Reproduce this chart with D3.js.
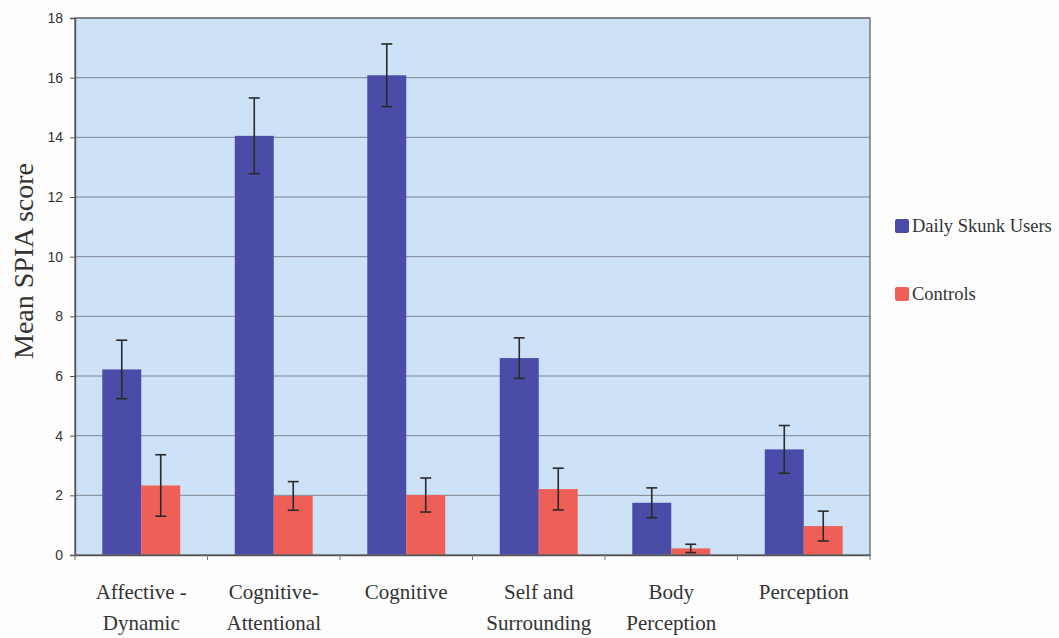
<!DOCTYPE html>
<html lang="en">
<head>
<meta charset="UTF-8" />
<title>Mean SPIA score</title>
<style>
  body { margin: 0; background: #fdfdfd; }
  svg { display: block; }
</style>
</head>
<body>
<svg id="chart" width="1059" height="638"></svg>
<script src="https://d3js.org/d3.v7.min.js"></script>
<script>
const categories = [
  ["Affective -", "Dynamic"],
  ["Cognitive-", "Attentional"],
  ["Cognitive"],
  ["Self and", "Surrounding"],
  ["Body", "Perception"],
  ["Perception"]
];
const seriesNames = ["Daily Skunk Users", "Controls"];
const skunkMeans = [6.22, 14.05, 16.08, 6.6, 1.75, 3.54];
const skunkErr = [0.98, 1.27, 1.05, 0.68, 0.5, 0.8];
const controlMeans = [2.33, 1.98, 2.01, 2.21, 0.22, 0.97];
const controlErr = [1.03, 0.48, 0.57, 0.7, 0.14, 0.5];
const yTicks = [0, 2, 4, 6, 8, 10, 12, 14, 16, 18];

const colors = ["#4b4ba8", "#ee5f58"];
const serif = "'Liberation Serif', 'Times New Roman', serif";

const svg = d3.select("#chart");
const plot = { left: 75, top: 18, right: 870, bottom: 555 };

const x = d3.scaleBand()
  .domain(d3.range(categories.length))
  .range([plot.left, plot.right]);

const y = d3.scaleLinear().domain([0, 18]).range([plot.bottom, plot.top]);

const inner = d3.scaleBand()
  .domain([0, 1])
  .range([0, x.bandwidth()])
  .paddingOuter(0.7)
  .paddingInner(0);

// plot background
svg.append("rect")
  .attr("x", plot.left).attr("y", plot.top)
  .attr("width", plot.right - plot.left).attr("height", plot.bottom - plot.top)
  .attr("fill", "#cde1f7");

// gridlines
svg.append("g")
  .selectAll("line")
  .data(yTicks.slice(1))
  .join("line")
  .attr("x1", plot.left).attr("x2", plot.right)
  .attr("y1", d => y(d)).attr("y2", d => y(d))
  .attr("stroke", "#7d8590").attr("stroke-width", 1);

// bars + error bars
const series = [
  { means: skunkMeans, err: skunkErr },
  { means: controlMeans, err: controlErr }
];

series.forEach((s, si) => {
  const g = svg.append("g");
  g.selectAll("rect")
    .data(s.means)
    .join("rect")
    .attr("x", (d, i) => x(i) + inner(si))
    .attr("y", d => y(d))
    .attr("width", inner.bandwidth())
    .attr("height", d => y(0) - y(d))
    .attr("fill", colors[si]);

  const eb = svg.append("g").attr("stroke", "#2a2a2a").attr("stroke-width", 1.6);
  s.means.forEach((m, i) => {
    const cx = x(i) + inner(si) + inner.bandwidth() / 2;
    const lo = y(Math.max(0, m - s.err[i]));
    const hi = y(m + s.err[i]);
    eb.append("line").attr("x1", cx).attr("x2", cx).attr("y1", lo).attr("y2", hi);
    eb.append("line").attr("x1", cx - 5.5).attr("x2", cx + 5.5).attr("y1", lo).attr("y2", lo);
    eb.append("line").attr("x1", cx - 5.5).attr("x2", cx + 5.5).attr("y1", hi).attr("y2", hi);
  });
});

// frame
svg.append("rect")
  .attr("x", plot.left).attr("y", plot.top)
  .attr("width", plot.right - plot.left).attr("height", plot.bottom - plot.top)
  .attr("fill", "none").attr("stroke", "#6e6e72").attr("stroke-width", 1.4);

// y axis
const yAxis = d3.axisLeft(y).tickValues(yTicks).tickSize(5).tickPadding(7);
const gy = svg.append("g")
  .attr("transform", `translate(${plot.left},0)`)
  .call(yAxis);
gy.select(".domain").attr("stroke", "#555").attr("stroke-width", 1.4);
gy.selectAll(".tick line").attr("stroke", "#555");
gy.selectAll(".tick text")
  .attr("fill", "#333")
  .style("font-family", "Arial, 'Liberation Sans', sans-serif")
  .style("font-size", "14px");

// x axis
const xAxis = d3.axisBottom(x).tickValues([]).tickSizeOuter(0);
const gx = svg.append("g")
  .attr("transform", `translate(0,${plot.bottom})`)
  .call(xAxis);
gx.select(".domain").attr("stroke", "#555").attr("stroke-width", 1.4);
gx.selectAll(".sep")
  .data(d3.range(categories.length + 1))
  .join("line")
  .attr("class", "sep")
  .attr("x1", i => plot.left + i * x.step())
  .attr("x2", i => plot.left + i * x.step())
  .attr("y1", 0).attr("y2", 5)
  .attr("stroke", "#777");

const labels = svg.append("g")
  .style("font-family", serif)
  .style("font-size", "21px")
  .attr("fill", "#333")
  .attr("text-anchor", "middle");

categories.forEach((lines, i) => {
  const cx = x(i) + x.bandwidth() / 2;
  const t = labels.append("text").attr("x", cx).attr("y", 599);
  lines.forEach((ln, k) => {
    t.append("tspan")
      .attr("x", cx)
      .attr("dy", k === 0 ? 0 : 31)
      .text(ln);
  });
});

// y title
svg.append("text")
  .attr("transform", `translate(33,261) rotate(-90)`)
  .attr("text-anchor", "middle")
  .style("font-family", serif)
  .style("font-size", "28px")
  .attr("fill", "#333")
  .text("Mean SPIA score");

// legend
const legend = svg.append("g");
seriesNames.forEach((name, i) => {
  const ly = 219 + i * 68;
  legend.append("rect")
    .attr("x", 895).attr("y", ly)
    .attr("width", 14).attr("height", 14)
    .attr("rx", 2)
    .attr("fill", colors[i]);
  legend.append("text")
    .attr("x", 912).attr("y", ly + 13)
    .style("font-family", serif)
    .style("font-size", "18.5px")
    .attr("fill", "#333")
    .text(name);
});
</script>
</body>
</html>
